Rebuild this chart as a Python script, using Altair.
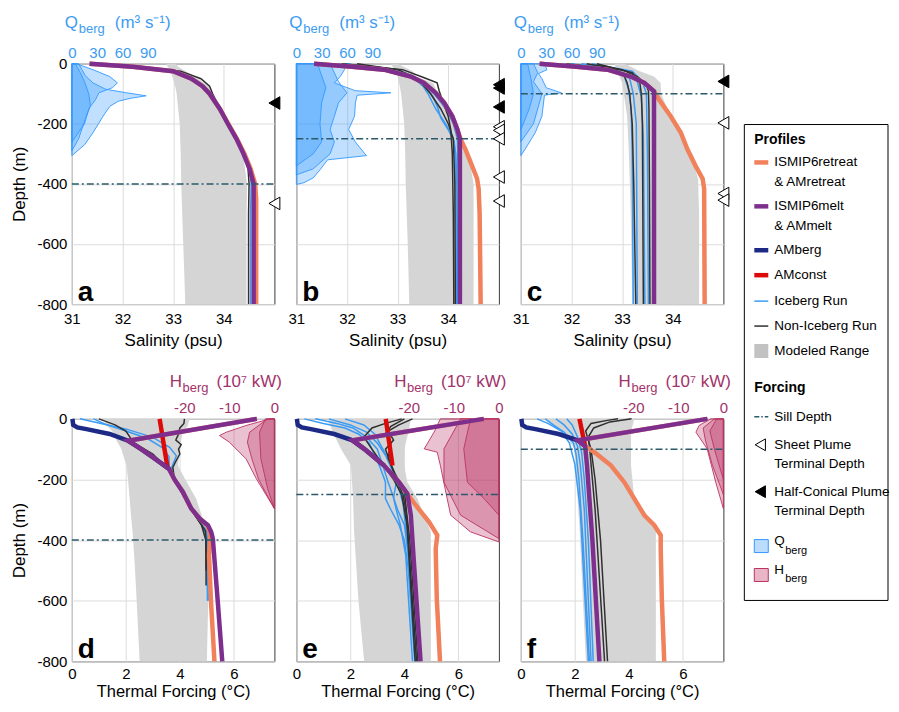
import altair as alt
import pandas as pd

FONT = "Liberation Sans"

# ---------------------------------------------------------------- data
# every profile: list of [depth (m, positive down), value]
SILL_DEPTH = [400, 250, 100, 400, 250, 100]
PANEL_LETTERS = ["a", "b", "c", "d", "e", "f"]
SAL_TICKS = [31, 32, 33, 34]
TF_TICKS = [0, 2, 4, 6]
QBERG_TICKS = [0, 30, 60, 90]
HBERG_TICKS = [-20, -10, 0]
DEPTH_TICKS = [0, -200, -400, -600, -800]

# terminal depths (m)
SHEET_DEPTHS = [[465], [210, 222, 250, 377, 457], [197, 432, 454]]
CONE_DEPTHS = [[131], [70, 81, 144], [59]]

# ---- panel a (salinity, psu)
A_PURPLE = [[0, 31.35], [10, 32.2], [25, 33.0], [50, 33.36], [75, 33.58], [100, 33.72], [150, 33.92], [200, 34.08], [250, 34.25], [300, 34.39], [350, 34.51], [400, 34.59], [800, 34.59]]
A_ORANGE = [[0, 31.35], [10, 32.2], [25, 33.0], [50, 33.36], [75, 33.58], [100, 33.72], [150, 33.92], [200, 34.09], [250, 34.26], [300, 34.41], [350, 34.53], [400, 34.62], [450, 34.64], [800, 34.64]]
A_BLUE = [[[0, 31.5], [10, 32.3], [25, 33.05], [50, 33.4], [75, 33.62], [100, 33.75], [150, 33.94], [200, 34.1], [250, 34.27], [300, 34.42], [350, 34.52], [400, 34.54], [500, 34.53], [800, 34.53]]]
A_BLACK = [[[0, 31.6], [10, 32.4], [25, 33.15], [50, 33.55], [75, 33.72], [100, 33.78], [150, 33.93], [200, 34.08], [250, 34.24], [300, 34.38], [350, 34.48], [400, 34.5], [500, 34.49], [800, 34.49]]]
A_RANGE = [[0, 32.85, 33.05], [10, 32.9, 33.1], [25, 32.95, 33.25], [50, 33.0, 33.5], [75, 33.04, 33.7], [100, 33.07, 33.78], [150, 33.1, 33.93], [200, 33.13, 34.08], [300, 33.15, 34.38], [400, 33.16, 34.46], [500, 33.18, 34.45], [600, 33.2, 34.45], [800, 33.24, 34.45]]
A_QBERG = [
    [[0, 8], [20, 12], [40, 16], [64, 25], [85, 40], [97, 65], [107, 88], [115, 70], [125, 55], [142, 45], [175, 37], [230, 25], [270, 15], [306, 0]],
    [[0, 5], [20, 25], [43, 45], [64, 54], [80, 48], [97, 32], [120, 28], [150, 20], [200, 15], [261, 0]],
    [[0, 4], [30, 10], [60, 15], [100, 20], [140, 22], [200, 14], [250, 8], [290, 0]],
]

# ---- panel b (salinity, psu)
B_PURPLE = [[0, 31.35], [10, 32.1], [20, 32.73], [43, 33.26], [64, 33.52], [97, 33.75], [130, 33.92], [175, 34.08], [219, 34.18], [250, 34.23], [800, 34.23]]
B_ORANGE = [[0, 31.35], [10, 32.1], [20, 32.73], [43, 33.26], [64, 33.52], [97, 33.75], [130, 33.92], [175, 34.08], [219, 34.18], [250, 34.24], [285, 34.34], [340, 34.47], [383, 34.57], [416, 34.6], [500, 34.62], [800, 34.64]]
B_BLUE = [
    [[0, 31.6], [20, 32.9], [45, 33.3], [75, 33.5], [100, 33.6], [150, 33.75], [200, 33.95], [250, 34.1], [300, 34.15], [400, 34.17], [800, 34.19]],
    [[0, 31.8], [20, 33.0], [45, 33.35], [75, 33.55], [110, 33.7], [150, 33.8], [180, 33.85], [220, 34.0], [260, 34.12], [350, 34.15], [800, 34.16]],
    [[0, 32.0], [25, 33.0], [60, 33.45], [100, 33.72], [150, 33.95], [200, 34.1], [250, 34.18], [400, 34.2], [800, 34.21]],
]
B_BLACK = [
    [[0, 31.9], [20, 33.1], [45, 33.5], [64, 33.78], [90, 33.82], [130, 33.9], [175, 34.0], [220, 34.05], [300, 34.08], [500, 34.1], [800, 34.11]],
    [[0, 32.2], [20, 33.0], [50, 33.4], [100, 33.65], [150, 33.85], [200, 34.0], [250, 34.1], [400, 34.13], [800, 34.14]],
]
B_RANGE = [[0, 32.87, 33.0], [25, 32.95, 33.3], [43, 33.0, 33.37], [64, 33.03, 33.7], [100, 33.07, 33.8], [150, 33.1, 33.98], [200, 33.13, 34.12], [250, 33.14, 34.27], [300, 33.15, 34.4], [400, 33.16, 34.5], [600, 33.2, 34.5], [800, 33.23, 34.5]]
B_QBERG = [
    [[0, 60], [20, 57], [43, 52], [64, 45], [90, 70], [97, 112], [105, 72], [130, 70], [175, 69], [219, 62], [261, 70], [306, 83], [320, 37], [350, 29], [380, 20], [396, 9], [402, 0]],
    [[0, 40], [30, 45], [60, 50], [97, 60], [130, 50], [175, 45], [219, 40], [261, 45], [300, 40], [350, 20], [370, 0]],
    [[0, 25], [40, 30], [80, 35], [130, 30], [200, 28], [260, 30], [300, 20], [340, 0]],
]

# ---- panel c (salinity, psu)
C_PURPLE = [[0, 31.37], [10, 32.1], [20, 32.71], [43, 33.17], [64, 33.44], [92, 33.63], [800, 33.63]]
C_ORANGE = [[0, 31.37], [10, 32.1], [20, 32.71], [43, 33.17], [64, 33.44], [92, 33.63], [100, 33.66], [120, 33.73], [175, 33.96], [230, 34.16], [285, 34.29], [340, 34.45], [383, 34.59], [416, 34.62], [800, 34.63]]
C_BLUE = [
    [[0, 31.8], [20, 32.8], [45, 33.05], [80, 33.12], [150, 33.18], [300, 33.2], [800, 33.22]],
    [[0, 32.0], [20, 32.9], [50, 33.15], [100, 33.22], [200, 33.28], [800, 33.3]],
    [[0, 32.2], [25, 33.1], [60, 33.3], [110, 33.38], [250, 33.42], [800, 33.45]],
    [[0, 32.4], [25, 33.2], [60, 33.4], [100, 33.48], [300, 33.5], [800, 33.52]],
]
C_BLACK = [
    [[0, 31.9], [20, 32.9], [43, 33.05], [64, 33.1], [100, 33.15], [200, 33.2], [400, 33.23], [800, 33.27]],
    [[0, 32.3], [20, 33.0], [43, 33.3], [64, 33.45], [90, 33.52], [150, 33.53], [400, 33.54], [800, 33.55]],
    [[0, 32.5], [30, 33.2], [64, 33.35], [100, 33.38], [200, 33.4], [800, 33.42]],
]
C_RANGE = [[0, 32.85, 33.05], [25, 32.9, 33.35], [43, 32.95, 33.63], [64, 33.0, 33.76], [100, 33.03, 33.77], [175, 33.1, 33.96], [285, 33.13, 34.33], [383, 33.15, 34.5], [500, 33.17, 34.52], [800, 33.2, 34.52]]
C_QBERG = [
    [[0, 28], [20, 31], [33, 21], [50, 25], [80, 30], [97, 48], [105, 28], [175, 25], [230, 17], [285, 5], [306, 0]],
    [[0, 15], [30, 20], [60, 15], [100, 25], [150, 20], [200, 15], [260, 0]],
    [[0, 8], [50, 12], [100, 15], [150, 10], [220, 0]],
]

# ---- panel d (thermal forcing, degC)
D_PURPLE = [[0, 6.85], [72, 2.08], [100, 2.57], [130, 3.05], [165, 3.6], [200, 3.8], [241, 4.11], [296, 4.42], [329, 4.73], [351, 5.04], [373, 5.16], [395, 5.22], [600, 5.4], [800, 5.57]]
D_ORANGE = [[0, 6.85], [72, 2.08], [100, 2.57], [130, 3.05], [165, 3.6], [200, 3.8], [241, 4.11], [296, 4.42], [329, 4.73], [351, 5.0], [373, 5.1], [395, 5.12], [450, 5.08], [600, 5.15], [800, 5.28]]
D_NAVY = [[0, 0.02], [20, 0.05], [28, 0.2], [34, 0.54], [50, 1.4], [72, 2.08], [100, 2.57], [130, 3.05], [165, 3.6]]
D_RED = [[0, 3.25], [165, 3.55]]
D_BLUE = [
    [[0, 0.3], [17, 1.16], [34, 2.02], [61, 3.0], [94, 3.62], [122, 3.87], [160, 3.7], [200, 3.8], [250, 4.15], [300, 4.45], [340, 4.75], [370, 5.0], [400, 5.02], [600, 5.05]],
    [[0, 0.8], [20, 1.3], [40, 2.0], [65, 2.8], [95, 3.35], [125, 3.6], [160, 3.6], [200, 3.8], [250, 4.12], [300, 4.43], [350, 4.85], [400, 5.0], [600, 5.02]],
]
D_BLACK = [
    [[0, 4.17], [15, 4.15], [30, 4.0], [50, 3.95], [70, 3.85], [85, 4.05], [100, 3.95], [116, 4.0], [140, 3.85], [160, 3.74], [200, 3.8], [250, 4.12], [300, 4.42], [340, 4.72], [370, 4.95], [400, 4.97], [550, 4.97]],
    [[0, 1.0], [20, 1.6], [40, 2.0], [60, 2.15], [78, 2.27], [116, 3.0], [160, 3.5], [200, 3.78], [250, 4.1], [300, 4.42], [350, 4.8], [400, 4.96], [500, 4.97]],
]
D_RANGE = [[0, 1.16, 4.36], [22, 1.3, 4.3], [44, 1.53, 4.1], [71, 1.65, 4.05], [99, 1.83, 4.0], [154, 2.02, 3.93], [200, 2.08, 4.2], [263, 2.14, 4.6], [329, 2.2, 4.85], [373, 2.25, 5.07], [483, 2.33, 5.07], [600, 2.4, 5.05], [800, 2.51, 5.0]]
D_HBERG = [
    [[0, -1], [22, -6.3], [44, -10.7], [55, -12.2], [77, -10], [132, -6.3], [198, -4], [296, 0]],
    [[0, -1.5], [44, -5.5], [77, -6], [132, -5], [200, -3.5], [296, 0]],
    [[0, -2], [44, -3.3], [132, -3], [230, -1.5], [296, 0]],
]

# ---- panel e (thermal forcing, degC)
E_PURPLE = [[0, 6.94], [71, 2.08], [99, 2.51], [154, 3.25], [209, 3.8], [247, 4.11], [318, 4.24], [483, 4.36], [800, 4.6]]
E_ORANGE = [[0, 6.94], [71, 2.08], [99, 2.51], [154, 3.25], [209, 3.8], [247, 4.11], [285, 4.42], [340, 4.91], [384, 5.22], [428, 5.16], [593, 5.2], [800, 5.32]]
E_NAVY = [[0, 0.02], [20, 0.05], [28, 0.2], [34, 0.54], [50, 1.4], [71, 2.08], [99, 2.51], [154, 3.25]]
E_RED = [[0, 3.31], [154, 3.56]]
E_BLUE = [
    [[0, 0.3], [15, 1.0], [30, 1.8], [50, 2.3], [80, 2.7], [120, 2.9], [160, 3.1], [209, 3.3], [263, 3.3], [300, 3.5], [350, 3.8], [400, 4.0], [500, 4.15], [800, 4.38]],
    [[0, 0.7], [15, 1.5], [30, 2.1], [60, 2.6], [100, 3.0], [154, 3.2], [209, 3.4], [260, 3.6], [300, 3.7], [350, 3.85], [450, 4.05], [800, 4.3]],
    [[0, 1.2], [20, 2.0], [44, 2.6], [80, 3.0], [120, 3.3], [180, 3.6], [230, 3.8], [280, 3.95], [400, 4.1], [800, 4.42]],
    [[0, 1.8], [20, 2.5], [50, 2.9], [99, 3.2], [150, 3.5], [209, 3.7], [260, 3.6], [300, 3.75], [350, 4.0], [450, 4.15], [800, 4.45]],
]
E_BLACK = [
    [[0, 4.3], [20, 3.8], [40, 3.4], [70, 3.6], [100, 3.3], [150, 3.5], [200, 3.7], [250, 3.95], [300, 4.05], [400, 4.15], [800, 4.45]],
    [[0, 3.9], [15, 3.3], [30, 2.8], [60, 2.5], [100, 2.8], [150, 3.2], [200, 3.6], [250, 3.9], [350, 4.1], [800, 4.4]],
    [[0, 4.0], [25, 3.5], [50, 3.3], [80, 3.5], [130, 3.4], [180, 3.65], [240, 4.0], [400, 4.2], [800, 4.5]],
]
E_RANGE = [[0, 1.16, 4.24], [44, 1.35, 4.15], [99, 1.65, 4.0], [154, 2.02, 3.99], [209, 2.06, 4.11], [263, 2.1, 4.48], [373, 2.14, 4.98], [600, 2.3, 4.98], [800, 2.51, 4.98]]
E_HBERG = [
    [[0, -13], [44, -14.4], [99, -16.6], [110, -13.7], [154, -13], [263, -11.5], [318, -10.7], [373, -6.3], [406, 0]],
    [[0, -8.5], [99, -12.2], [209, -12.2], [318, -8.5], [395, 0]],
    [[0, -6.3], [99, -7.8], [209, -7.0], [263, -3.3], [318, 0]],
]

# ---- panel f (thermal forcing, degC)
F_PURPLE = [[0, 6.91], [71, 2.11], [90, 2.38], [154, 2.45], [400, 2.65], [800, 2.91]]
F_ORANGE = [[0, 6.91], [71, 2.11], [90, 2.38], [110, 2.72], [154, 3.34], [209, 3.83], [263, 4.2], [318, 4.57], [351, 4.94], [384, 5.18], [428, 5.18], [593, 5.22], [800, 5.31]]
F_NAVY = [[0, 0.02], [20, 0.05], [28, 0.2], [34, 0.54], [50, 1.4], [71, 2.11]]
F_RED = [[0, 2.17], [90, 2.38]]
F_BLUE = [
    [[0, 0.9], [20, 1.2], [44, 1.6], [80, 1.95], [120, 2.05], [200, 2.15], [400, 2.3], [800, 2.54]],
    [[0, 1.3], [20, 1.6], [50, 1.9], [90, 2.1], [150, 2.2], [300, 2.35], [800, 2.6]],
    [[0, 1.7], [20, 1.9], [60, 2.1], [110, 2.25], [200, 2.35], [400, 2.5], [800, 2.68]],
    [[0, 0.6], [15, 1.0], [40, 1.5], [80, 1.8], [150, 2.0], [300, 2.2], [800, 2.5]],
]
F_BLACK = [
    [[0, 3.6], [5, 3.2], [15, 2.6], [40, 2.4], [71, 2.5], [100, 2.6], [200, 2.75], [400, 2.95], [800, 3.21]],
    [[0, 4.1], [10, 3.3], [30, 2.7], [60, 2.5], [100, 2.55], [300, 2.75], [800, 3.1]],
]
F_RANGE = [[0, 0.87, 4.2], [44, 1.61, 4.08], [99, 1.98, 4.08], [154, 2.04, 4.08], [263, 2.1, 4.2], [318, 2.14, 4.69], [351, 2.17, 5.0], [600, 2.3, 5.0], [800, 2.41, 5.0]]
F_HBERG = [
    [[0, -2.8], [22, -5.4], [44, -6.1], [99, -3.6], [209, -1.7], [296, 0]],
    [[0, -2], [30, -4.5], [70, -4.0], [150, -2.5], [250, 0]],
    [[0, -1.5], [40, -3], [100, -2], [200, 0]],
]

LEGEND_PROFILE_TEXT = [["ISMIP6retreat", "& AMretreat"], ["ISMIP6melt", "& AMmelt"], ["AMberg"], ["AMconst"], ["Iceberg Run"], ["Non-Iceberg Run"], ["Modeled Range"]]
LEGEND_FORCING_TEXT = [["Sill Depth"], ["Sheet Plume", "Terminal Depth"], ["Half-Conical Plume", "Terminal Depth"]]

# ---------------------------------------------------------------- style
W = 203
H1 = 241
H2 = 243
GAP_X = 22
GAP_Y = 115

COL_ORANGE = "#f0815b"
COL_PURPLE = "#7e2f8e"
COL_NAVY = "#1c2a86"
COL_RED = "#dd0a0a"
COL_BLUE = "#3a9bf5"
COL_BLACK = "#303030"
COL_GRAY = "#d5d5d5"
COL_SILL = "#2b5969"
COL_Q = "#3399ff"
COL_H = "#bb3363"
COL_QTXT = "#3d9cf0"
COL_HTXT = "#a2326a"
THICK = 4.5
THIN = 1.5
TRI = 160
LEG_FS = 13.5


def prof_df(series):
    rows = []
    for k, pairs in enumerate(series):
        for i, (d, v) in enumerate(pairs):
            rows.append({"s": k, "depth": -d, "v": v, "o": i, "z": 0})
    return pd.DataFrame(rows)


def range_df(rng):
    return pd.DataFrame([{"depth": -d, "lo": lo, "hi": hi} for d, lo, hi in rng])


ONE = pd.DataFrame({"k": [0]})


def vtext(t, x, y, size, color="black", weight="normal", baseline="middle"):
    return alt.Chart(ONE).mark_text(text=t, font=FONT, fontSize=size, fontWeight=weight,
                                    align="left", baseline=baseline, color=color).encode(
        x=alt.value(x), y=alt.value(y))


def legend_layers(x0):
    """Legend box drawn to the right of panel c (pixel layout)."""
    out = []
    out.append(alt.Chart(ONE).mark_rect(fill="white", stroke="black", strokeWidth=1).encode(
        x=alt.value(x0), x2=alt.value(x0 + 144), y=alt.value(61), y2=alt.value(538)))
    sx, sx2, tx = x0 + 10, x0 + 24, x0 + 30
    out.append(vtext("Profiles", x0 + 10, 77, 14, weight="bold"))
    prof_y = [99, 143, 187, 212, 238, 263, 288]
    for lines_, y in zip(LEGEND_PROFILE_TEXT, prof_y):
        for j, t in enumerate(lines_):
            out.append(vtext(t, tx, y + 20 * j, LEG_FS))
    sw = [(COL_ORANGE, THICK), (COL_PURPLE, THICK), (COL_NAVY, THICK), (COL_RED, THICK),
          (COL_BLUE, THIN), (COL_BLACK, THIN)]
    for (c, w), y in zip(sw, prof_y):
        out.append(alt.Chart(ONE).mark_rule(color=c, strokeWidth=w).encode(
            x=alt.value(sx), x2=alt.value(sx2), y=alt.value(y)))
    out.append(alt.Chart(ONE).mark_rect(fill="#c2c2c2").encode(
        x=alt.value(sx), x2=alt.value(sx2), y=alt.value(prof_y[6] - 7), y2=alt.value(prof_y[6] + 7)))
    out.append(vtext("Forcing", x0 + 10, 325, 14, weight="bold"))
    forc_y = [354, 382, 429]
    for lines_, y in zip(LEGEND_FORCING_TEXT, forc_y):
        for j, t in enumerate(lines_):
            out.append(vtext(t, tx, y + 19 * j, LEG_FS))
    out.append(alt.Chart(ONE).mark_rule(color=COL_SILL, strokeWidth=1.5,
                                        strokeDash=[5, 2, 1.5, 2]).encode(
        x=alt.value(sx), x2=alt.value(sx2), y=alt.value(forc_y[0])))
    out.append(alt.Chart(ONE).mark_point(shape="triangle-left", filled=True, fill="white",
                                         stroke="black", strokeWidth=1, size=TRI - 20, opacity=1).encode(
        x=alt.value(sx + 6), y=alt.value(forc_y[1])))
    out.append(alt.Chart(ONE).mark_point(shape="triangle-left", filled=True, fill="black",
                                         stroke="black", strokeWidth=1, size=TRI - 20, opacity=1).encode(
        x=alt.value(sx + 6), y=alt.value(forc_y[2])))
    for (f, s), y, letter in zip([("#bcdcfb", COL_Q), ("#e8b6c6", COL_H)], [484, 513], ["Q", "H"]):
        out.append(alt.Chart(ONE).mark_rect(fill=f, stroke=s, strokeWidth=1).encode(
            x=alt.value(sx), x2=alt.value(sx2), y=alt.value(y - 7), y2=alt.value(y + 6)))
        out.append(vtext(letter, tx, y - 6, LEG_FS))
        out.append(vtext("berg", tx + 11, y + 4, 11))
    return out


def make_panel(i, rng, areas, blues, blacks, orange, purple, navy, red):
    sal = i < 3
    h = H1 if sal else H2
    left = i % 3 == 0
    xdom = [31, 35] if sal else [0, 7.5]
    xticks = SAL_TICKS if sal else TF_TICKS
    xtitle = "Salinity (psu)" if sal else "Thermal Forcing (°C)"
    adom = [0, 240] if sal else [-45, 0]
    aticks = QBERG_TICKS if sal else HBERG_TICKS
    acol = COL_QTXT if sal else COL_HTXT
    afill = COL_Q if sal else COL_H

    yscale = alt.Scale(domain=[-800, 0], nice=False, zero=False)
    xscale = alt.Scale(domain=xdom, nice=False, zero=False)
    if left:
        yaxis = alt.Axis(values=DEPTH_TICKS, title="Depth (m)", grid=True, ticks=False,
                         domain=False, labelPadding=5, titlePadding=8,
                         labelExpr="'' + datum.value")
    else:
        yaxis = alt.Axis(values=DEPTH_TICKS, title=None, labels=False, grid=True,
                         ticks=False, domain=False)
    y_enc = alt.Y("depth:Q", scale=yscale, axis=yaxis)

    if sal:
        xaxis = alt.Axis(values=xticks, title=xtitle, grid=True, ticks=False, domain=False,
                         labelPadding=7, titlePadding=6, labelFlush=False, titleFontSize=17)
    else:
        xaxis = alt.Axis(values=xticks, title=xtitle, grid=True, ticks=False, domain=False,
                         labelPadding=5, titlePadding=2, labelFlush=False, titleFontSize=16.5)

    layers = []
    layers.append(
        alt.Chart(range_df(rng)).mark_area(orient="horizontal", color=COL_GRAY).encode(
            y=y_enc, x=alt.X("lo:Q", scale=xscale, axis=xaxis), x2="hi:Q")
    )
    layers.append(
        alt.Chart(prof_df(areas)).mark_area(
            orient="horizontal", fill=afill, fillOpacity=0.3, stroke=afill,
            strokeWidth=1, strokeOpacity=0.9).encode(
            y=y_enc,
            x=alt.X("v:Q", scale=alt.Scale(domain=adom, nice=False, zero=False),
                    axis=alt.Axis(orient="top", values=aticks, title=None, grid=False,
                                  ticks=False, domain=False, labelPadding=3,
                                  labelColor=acol, labelFlush=False,
                                  labelExpr="'' + datum.value")),
            x2="z:Q",
            detail="s:N",
        )
    )

    def lines(series, color, width):
        return alt.Chart(prof_df(series)).mark_line(color=color, strokeWidth=width).encode(
            y=y_enc, x=alt.X("v:Q", scale=xscale, axis=None),
            order="o:Q", detail="s:N")

    layers.append(lines(blues, COL_BLUE, THIN))
    layers.append(lines(blacks, COL_BLACK, THIN))
    layers.append(lines([orange], COL_ORANGE, THICK))
    if red is not None:
        layers.append(lines([red], COL_RED, THICK))
    if navy is not None:
        layers.append(lines([navy], COL_NAVY, THICK))
    layers.append(lines([purple], COL_PURPLE, THICK))

    layers.append(
        alt.Chart(pd.DataFrame({"depth": [-SILL_DEPTH[i]]})).mark_rule(
            color=COL_SILL, strokeWidth=1.5, strokeDash=[7, 3, 2, 3]).encode(
            y=y_enc, x=alt.value(0), x2=alt.value(W))
    )
    if sal:
        layers.append(
            alt.Chart(pd.DataFrame({"depth": [-d for d in SHEET_DEPTHS[i]]})).mark_point(
                shape="triangle-left", filled=True, fill="white", stroke="black",
                strokeWidth=1, size=TRI, opacity=1).encode(y=y_enc, x=alt.value(W))
        )
        layers.append(
            alt.Chart(pd.DataFrame({"depth": [-d for d in CONE_DEPTHS[i]]})).mark_point(
                shape="triangle-left", filled=True, fill="black", stroke="black",
                strokeWidth=1, size=TRI, opacity=1).encode(y=y_enc, x=alt.value(W))
        )
    layers.append(
        alt.Chart(ONE).mark_text(text=PANEL_LETTERS[i], font=FONT, fontSize=28,
                                 fontWeight="bold", align="left", baseline="alphabetic",
                                 color="black").encode(x=alt.value(6), y=alt.value(h - 3))
    )
    # top-axis title with subscript
    if sal:
        parts = [("Q", -7, -36, 17), ("berg", 7, -31, 13), ("(m³ s⁻¹)", 43, -36, 17)]
    else:
        parts = [("H", 98, -32, 17), ("berg", 111, -27, 13), ("(10⁷ kW)", 145, -32, 17)]
    for t, px, py, fs in parts:
        layers.append(vtext(t, px, py, fs, color=acol, baseline="alphabetic"))
    if i == 2:
        layers += legend_layers(W + 21)
    return alt.layer(*layers).resolve_scale(x="independent").properties(width=W, height=h)


panels = [
    make_panel(0, A_RANGE, A_QBERG, A_BLUE, A_BLACK, A_ORANGE, A_PURPLE, None, None),
    make_panel(1, B_RANGE, B_QBERG, B_BLUE, B_BLACK, B_ORANGE, B_PURPLE, None, None),
    make_panel(2, C_RANGE, C_QBERG, C_BLUE, C_BLACK, C_ORANGE, C_PURPLE, None, None),
    make_panel(3, D_RANGE, D_HBERG, D_BLUE, D_BLACK, D_ORANGE, D_PURPLE, D_NAVY, D_RED),
    make_panel(4, E_RANGE, E_HBERG, E_BLUE, E_BLACK, E_ORANGE, E_PURPLE, E_NAVY, E_RED),
    make_panel(5, F_RANGE, F_HBERG, F_BLUE, F_BLACK, F_ORANGE, F_PURPLE, F_NAVY, F_RED),
]

chart = alt.concat(
    *panels, columns=3, spacing={"row": GAP_Y, "column": GAP_X}, bounds="flush"
).configure_view(
    stroke="#3a3a3a", strokeWidth=1
).configure_axis(
    labelFont=FONT, titleFont=FONT, labelFontSize=15, titleFontSize=17,
    titleFontWeight="normal", labelColor="black", titleColor="black",
    gridColor="#dcdcdc", gridWidth=1,
).properties(padding={"left": 2, "top": 4, "right": 0, "bottom": 0})

chart.save("out.html", embed_options={"renderer": "svg", "actions": False})
